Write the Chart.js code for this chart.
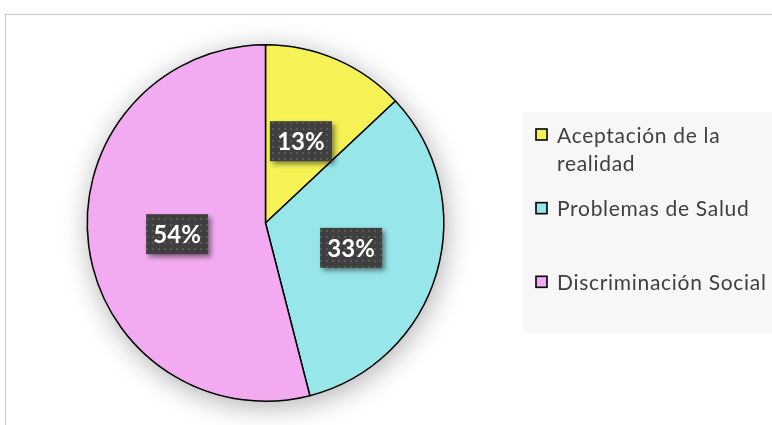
<!DOCTYPE html>
<html>
<head>
<meta charset="utf-8">
<script src="https://cdn.jsdelivr.net/npm/chart.js@4.4.1/dist/chart.umd.min.js"></script>
<style>
  html, body { margin: 0; padding: 0; background: #fff; }
  #wrap { position: relative; width: 772px; height: 425px; overflow: hidden; }
  #frame { position: absolute; left: 5px; top: 14px; width: 900px; height: 600px;
           border-top: 1.5px solid #c8c8c8; border-left: 1.5px solid #c8c8c8; }
  canvas { position: absolute; left: 0; top: 0; }
</style>
</head>
<body>
<div id="wrap">
  <div id="frame"></div>
  <canvas id="pie-chart" width="772" height="425"></canvas>
</div>
<script>
// Categories and values (percent)
const categories = ['Aceptación de la realidad', 'Problemas de Salud', 'Discriminación Social'];
const percentages = [13, 33, 54];
const sliceColors = ['#f4f254', '#97e6ea', '#f2aaf0'];

const FONT = 'Lato, "Open Sans", sans-serif';

// Dark dotted fill used behind the data labels
function makeLabelPattern(ctx) {
  const c = document.createElement('canvas');
  c.width = 6; c.height = 6;
  const p = c.getContext('2d');
  p.fillStyle = '#3f3f3f';
  p.fillRect(0, 0, 6, 6);
  p.fillStyle = '#585858';
  p.fillRect(2, 2, 2, 2);
  return ctx.createPattern(c, 'repeat');
}

// Soft shadow under the whole pie
const pieShadow = {
  id: 'pieShadow',
  beforeDatasetsDraw(chart) {
    const arc = chart.getDatasetMeta(0).data[0];
    if (!arc) return;
    const ctx = chart.ctx;
    ctx.save();
    ctx.shadowColor = 'rgba(0,0,0,0.32)';
    ctx.shadowBlur = 28;
    ctx.shadowOffsetX = 2;
    ctx.shadowOffsetY = 5;
    ctx.fillStyle = '#ffffff';
    ctx.beginPath();
    ctx.arc(arc.x, arc.y, arc.outerRadius, 0, Math.PI * 2);
    ctx.fill();
    ctx.restore();
  }
};

// Percentage labels in dark boxes
const pctLabels = {
  id: 'pctLabels',
  afterDatasetsDraw(chart) {
    const ctx = chart.ctx;
    const meta = chart.getDatasetMeta(0);
    const pattern = makeLabelPattern(ctx);
    const boxW = 62, boxH = 40;
    meta.data.forEach((arc, i) => {
      const pos = arc.tooltipPosition();
      const x = pos.x - boxW / 2;
      const y = pos.y - boxH / 2;
      ctx.save();
      ctx.shadowColor = 'rgba(0,0,0,0.45)';
      ctx.shadowBlur = 5;
      ctx.shadowOffsetX = 3;
      ctx.shadowOffsetY = 3;
      ctx.fillStyle = pattern;
      ctx.fillRect(x, y, boxW, boxH);
      ctx.restore();

      ctx.save();
      ctx.fillStyle = '#ffffff';
      ctx.font = 'bold 24px ' + FONT;
      ctx.textAlign = 'center';
      ctx.textBaseline = 'middle';
      ctx.fillText(percentages[i] + '%', pos.x, pos.y + 1);
      ctx.restore();
    });
  }
};

// Legend on the right, drawn in a light grey panel
const sideLegend = {
  id: 'sideLegend',
  afterDraw(chart) {
    const ctx = chart.ctx;
    const panel = { left: 523, top: 112, right: 772, bottom: 333 };
    ctx.save();
    ctx.fillStyle = '#f7f7f7';
    ctx.fillRect(panel.left, panel.top, panel.right - panel.left, panel.bottom - panel.top);

    ctx.font = '21px ' + FONT;
    ctx.letterSpacing = '0.7px';
    ctx.textBaseline = 'alphabetic';
    const textX = 557;
    const maxW = panel.right - textX - 4;
    const slot = (panel.bottom - panel.top) / categories.length;

    categories.forEach((name, i) => {
      // wrap words
      const words = name.split(' ');
      const lines = [];
      let cur = '';
      words.forEach(w => {
        const test = cur ? cur + ' ' + w : w;
        if (ctx.measureText(test).width > maxW && cur) {
          lines.push(cur);
          cur = w;
        } else {
          cur = test;
        }
      });
      lines.push(cur);

      const base = panel.top + slot * i + 30.5;
      // marker
      ctx.fillStyle = sliceColors[i];
      ctx.fillRect(536, base - 13.5, 11, 11);
      ctx.strokeStyle = '#000000';
      ctx.lineWidth = 1.6;
      ctx.strokeRect(536, base - 13.5, 11, 11);

      ctx.fillStyle = '#404040';
      lines.forEach((ln, j) => ctx.fillText(ln, textX, base + j * 28.5));
    });
    ctx.restore();
  }
};

const ctx = document.getElementById('pie-chart').getContext('2d');

new Chart(ctx, {
  type: 'pie',
  data: {
    labels: categories,
    datasets: [{
      data: percentages,
      backgroundColor: sliceColors,
      borderColor: '#000000',
      borderWidth: 1.5
    }]
  },
  options: {
    responsive: false,
    animation: false,
    rotation: 0,
    layout: {
      padding: { left: 86, right: 327, top: 44, bottom: 23 }
    },
    plugins: {
      legend: { display: false },
      tooltip: { enabled: false }
    }
  },
  plugins: [pieShadow, pctLabels, sideLegend]
});
</script>
</body>
</html>
